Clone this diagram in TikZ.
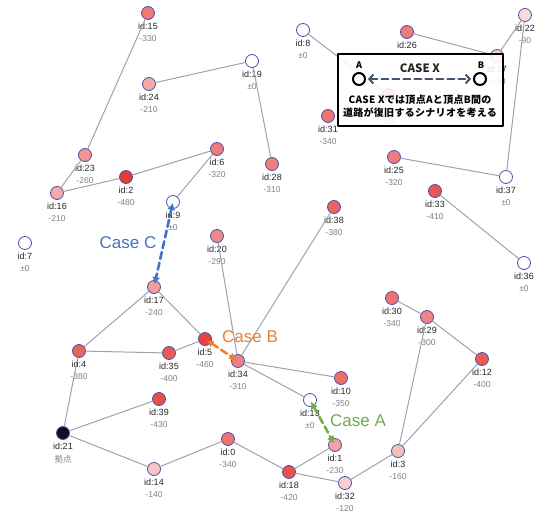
\documentclass[tikz,border=0pt]{standalone}
\usepackage{fontspec}
\setmainfont{Liberation Sans}
\newfontfamily\jpfont{Noto Sans CJK JP}
\newfontfamily\jpwide[LetterSpace=3]{Noto Sans CJK JP}
\usetikzlibrary{arrows.meta}
\definecolor{vred}{RGB}{229,57,53}
\definecolor{vborder}{RGB}{72,84,170}
\definecolor{roadgray}{RGB}{156,162,174}
\definecolor{hubblack}{RGB}{13,17,28}
\definecolor{caseA}{RGB}{112,173,71}
\definecolor{caseB}{RGB}{237,125,49}
\definecolor{caseC}{RGB}{68,114,196}
\definecolor{slate}{RGB}{68,84,106}
\tikzset{
  vtx/.style={circle, draw=vborder, line width=0.8pt, minimum size=13pt, inner sep=0pt},
  idlbl/.style={font=\fontsize{9}{9}\selectfont, text=black!85, inner sep=0pt},
  vallbl/.style={font=\fontsize{8.5}{8.5}\selectfont, text=black!50, inner sep=0pt},
  road/.style={draw=roadgray, line width=1pt},
  caseline/.style={line width=2.6pt, dash pattern=on 7pt off 4pt,
    {Latex[length=7pt,width=8pt]}-{Latex[length=7pt,width=8pt]}, shorten <=2pt, shorten >=2pt},
  caselbl/.style={font=\fontsize{17}{17}\selectfont, inner sep=0pt},
  legendtxt/.style={font=\jpwide\bfseries\fontsize{10}{10}\selectfont, inner sep=0pt},
}
\begin{document}
\begin{tikzpicture}[x=1pt, y=-1pt, line join=round, line cap=round]
	\useasboundingbox (0,0) rectangle (536,517);
	% damaged vertices
	\foreach \n/\x/\y/\v in {15/148/13/330, 24/149/84/210, 23/85/155/260, 6/217/149/320, 2/126/177/480,
		28/272/164/310, 16/57/193/210, 20/217/236/290, 17/154/287/240, 5/205/339/460, 4/79/351/380,
		35/169/353/400, 34/238/361/310, 39/159/399/430, 0/228/439/340, 14/154/469/140, 10/341/378/350,
		1/335/445/230, 18/289/472/420, 32/345/483/120, 3/398/451/160, 12/482/359/400, 30/392/298/340,
		29/427/317/300, 38/334/207/380, 33/435/191/410, 25/394/157/320, 31/328/116/340, 26/407/32/320,
		27/497/56/130, 22/525/15/90}{
		\pgfmathtruncatemacro\p{\v/4.8}
		\node[vtx, fill=vred!\p!white] (v\n) at (\x,\y) {};
		\node[idlbl, yshift=-13pt] at (\x,\y) {id:\n};
		\node[vallbl, yshift=-26pt] at (\x,\y) {-\v};
	}
	% id:11 lies under the legend
	\node[vtx, fill=vred!72!white] (v11) at (388,95) {};
	\node[vallbl, yshift=-26pt] at (388,95) {-350};
	% undamaged vertices
	\foreach \n/\x/\y in {19/252/61, 9/173/202, 7/25/243, 13/310/400, 37/506/177, 36/524/263, 8/303/30}{
		\node[vtx, fill=white] (v\n) at (\x,\y) {};
		\node[idlbl, yshift=-13pt] at (\x,\y) {id:\n};
		\node[vallbl, yshift=-26pt] at (\x,\y) {±0};
	}
	\node[vtx, fill=hubblack] (v21) at (63,433) {};
	\node[idlbl, yshift=-13pt] at (63,433) {id:21};
	\node[vallbl, yshift=-26pt] at (63,433) {\jpfont 拠点};
	% roads
	\foreach \a/\b in {15/23, 24/19, 19/28, 23/16, 16/2, 2/6, 6/9, 8/11, 26/27, 27/22, 22/37, 25/37,
		33/36, 20/34, 38/34, 17/4, 17/5, 4/35, 35/5, 4/21, 21/39, 21/14, 14/0, 0/18, 18/1, 18/32,
		32/3, 3/29, 3/12, 29/12, 30/29, 34/10, 34/13}
		\draw[road] (v\a) -- (v\b);
	% restored roads
	\draw[caseline, caseC, shorten <=1pt, shorten >=3pt] (v9.center) -- (v17.center);
	\draw[caseline, caseB] (v5.center) -- (v34.center);
	\draw[caseline, caseA] (v13.center) -- (v1.center);
	\node[caselbl, text=caseC] (lblC) at (128,243) {Case C};
	\node[caselbl, text=caseB] (lblB) at (250,337) {Case B};
	\node[caselbl, text=caseA] (lblA) at (358,421) {Case A};
	% legend
	\node[draw=black, line width=1.2pt, fill=white, fill opacity=0.88, text opacity=1,
		minimum width=165pt, minimum height=72pt] (legend) at (420.5,90) {};
	\node[circle, draw=black, line width=2pt, minimum size=12pt, inner sep=0pt] (ptA) at (359,79) {};
	\node[circle, draw=black, line width=2pt, minimum size=12pt, inner sep=0pt] (ptB) at (480,79) {};
	\node[font=\jpfont\bfseries\fontsize{9}{9}\selectfont, inner sep=0pt] at (359,65) {A};
	\node[font=\jpfont\bfseries\fontsize{9}{9}\selectfont, inner sep=0pt] at (481,65) {B};
	\draw[slate, line width=2pt, dash pattern=on 7pt off 4pt, shorten <=2pt, shorten >=2pt,
		{Straight Barb[length=4pt,width=9pt]}-{Straight Barb[length=4pt,width=9pt]}] (ptA) -- (ptB);
	\node[font=\jpfont\bfseries\fontsize{11.5}{11.5}\selectfont, text=black!85, inner sep=0pt] at (420,68) {CASE X};
	\node[legendtxt] at (420,100) {CASE Xでは頂点Aと頂点B間の};
	\node[legendtxt] at (420,113) {道路が復旧するシナリオを考える};
\end{tikzpicture}
\end{document}
